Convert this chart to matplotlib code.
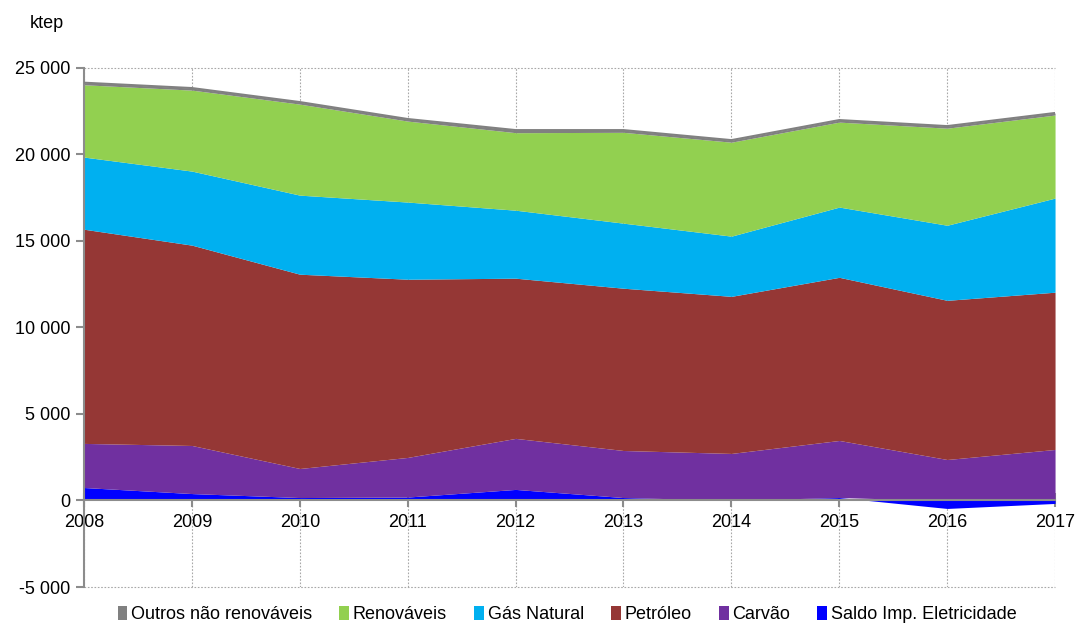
import numpy as np
import matplotlib
matplotlib.use("Agg")
import matplotlib.pyplot as plt
from matplotlib.patches import Patch
from matplotlib.ticker import FuncFormatter

plt.rcParams['font.family'] = ['Liberation Sans', 'DejaVu Sans']

years = [2008, 2009, 2010, 2011, 2012, 2013, 2014, 2015, 2016, 2017]
saldo = [750, 400, 170, 200, 640, 170, 20, 170, -460, -170]
carvao = [2550, 2780, 1680, 2290, 2950, 2720, 2700, 3300, 2370, 2950]
petroleo = [12380, 11580, 11230, 10300, 9260, 9380, 9080, 9430, 9200, 9090]
gas_natural = [4170, 4280, 4570, 4460, 3930, 3760, 3480, 4060, 4340, 5440]
renovaveis = [4180, 4680, 5260, 4680, 4480, 5250, 5430, 4910, 5610, 4800]
outros = [120, 120, 120, 120, 150, 130, 120, 120, 120, 120]

labels = ["Outros não renováveis", "Renováveis", "Gás Natural", "Petróleo", "Carvão",
          "Saldo Imp. Eletricidade"]
colors = ["#808080", "#92D050", "#00B0F0", "#953735", "#7030A0", "#0000FF"]

FS = 13

fig = plt.figure(figsize=(10.8, 6.26), dpi=100)
ax = fig.add_axes([0.0778, 0.0623, 0.8991, 0.8291])

x = np.array(years)
s = np.array(saldo, dtype=float)
base = np.maximum(s, 0)
layers = [carvao, petroleo, gas_natural, renovaveis, outros]
lcolors = [colors[4], colors[3], colors[2], colors[1], colors[0]]
ax.fill_between(x, 0, s, color=colors[5], lw=0, zorder=2)
cum = base.copy()
for vals, c in zip(layers, lcolors):
    top = cum + np.array(vals, dtype=float)
    ax.fill_between(x, cum, top, color=c, lw=0, zorder=2)
    cum = top
ax.plot(x, cum, color="#808080", lw=1.5, zorder=3)

ax.set_xlim(2008, 2017)
ax.set_ylim(-5000, 25000)
ax.set_xticks(years)
ax.set_yticks(range(-5000, 25001, 5000))
ax.yaxis.set_major_formatter(FuncFormatter(lambda v, p: f"{int(v):,}".replace(",", " ")))

for sp in ['top', 'right']:
    ax.spines[sp].set_visible(False)
ax.spines['bottom'].set_position(('data', 0))
ax.spines['bottom'].set_color('#8c8c8c')
ax.spines['bottom'].set_linewidth(1.5)
ax.spines['bottom'].set_zorder(4)
ax.spines['left'].set_color('#8c8c8c')
ax.spines['left'].set_linewidth(1.5)

ax.grid(axis='x', color='#a8a8a8', ls=(0, (1.5, 1.5)), lw=0.8, zorder=0)
ax.axhline(25000, color='#a8a8a8', ls=(0, (1.5, 1.5)), lw=0.8, zorder=0, clip_on=False)
ax.axhline(-5000, color='#a8a8a8', ls=(0, (1.5, 1.5)), lw=0.8, zorder=0, clip_on=False)

ax.tick_params(axis='x', direction='inout', length=10, width=1.5, color='#8c8c8c',
               labelsize=FS, pad=5)
ax.tick_params(axis='y', direction='out', length=6, width=1.5, color='#8c8c8c',
               labelsize=FS, pad=4)

fig.text(0.028, 0.962, "ktep", fontsize=FS, ha='left', va='center')

handles = [Patch(facecolor=c, edgecolor='none') for c in colors]
leg = fig.legend(handles, labels, loc='center', bbox_to_anchor=(0.525, 0.018), ncol=6,
                 frameon=False, fontsize=FS, handlelength=0.55, handleheight=0.75,
                 handletextpad=0.2, columnspacing=1.5)

fig.savefig("out.png", dpi=100)
